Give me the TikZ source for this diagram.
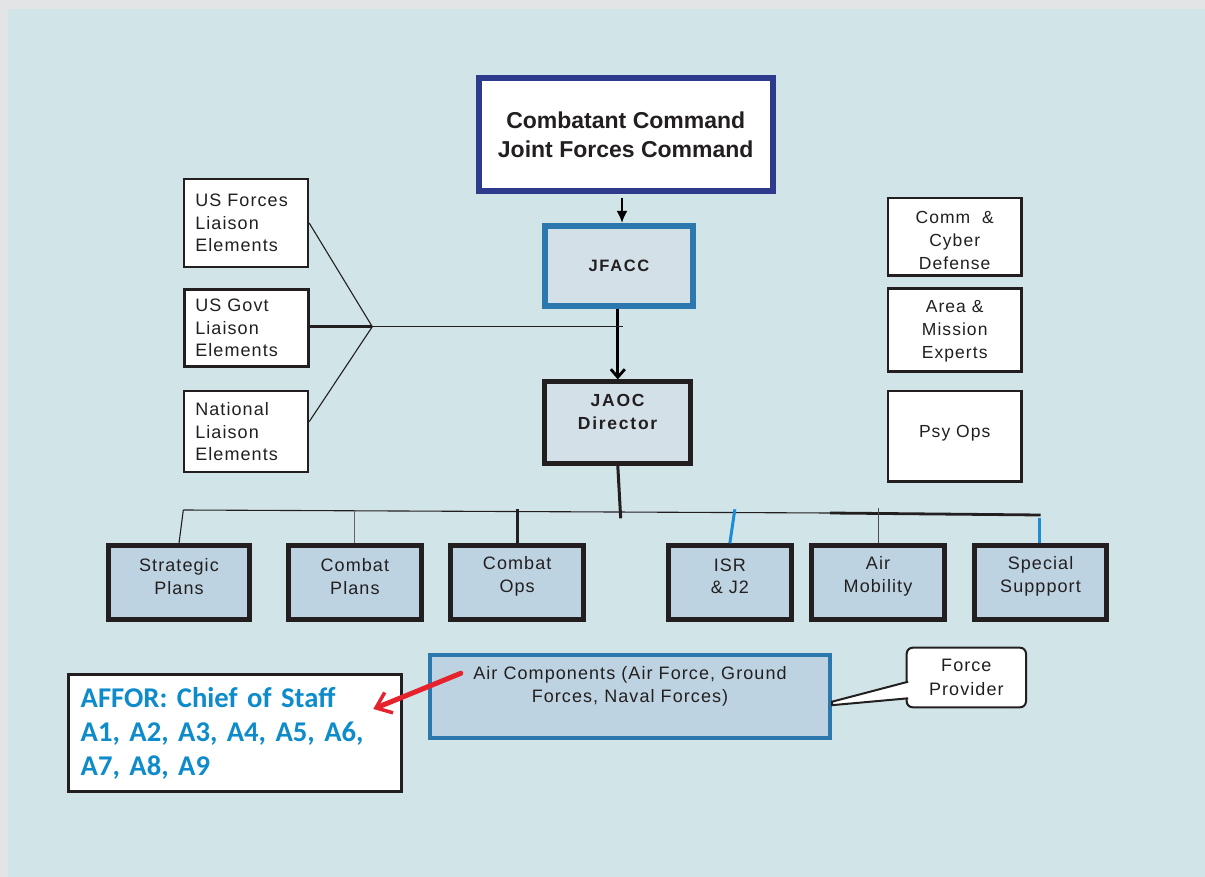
\documentclass[tikz,border=0pt]{standalone}
\usepackage{fontspec}
\setmainfont{Liberation Sans}
\newfontfamily\lsf[LetterSpace=6]{Liberation Sans}
\newfontfamily\lsfb[LetterSpace=10]{Liberation Sans}
\newfontfamily\calfont{Carlito}
\usetikzlibrary{arrows.meta,calc}

\definecolor{outergray}{HTML}{E3E4E6}
\definecolor{panel}{HTML}{D1E4E8}
\definecolor{navy}{HTML}{2E3B8C}
\definecolor{steel}{HTML}{2B77AE}
\definecolor{ink}{HTML}{231F20}
\definecolor{pale}{HTML}{D3E0E7}
\definecolor{unitfill}{HTML}{BDD3E1}
\definecolor{alertred}{HTML}{E6232C}
\definecolor{affblue}{HTML}{0D8BCB}
\definecolor{linkblue}{HTML}{1B8DD4}

\tikzset{
  every node/.style={inner sep=0pt, text=ink},
  cmdbox/.style={draw=navy, line width=6pt, fill=white,
    minimum width=293.5pt, minimum height=112.5pt, align=center,
    font=\bfseries\fontsize{23}{28.3}\selectfont},
  jfaccbox/.style={draw=steel, line width=6pt, fill=pale,
    minimum width=148pt, minimum height=80pt,
    font=\lsfb\bfseries\fontsize{16.5}{20}\selectfont},
  jaocbox/.style={draw=ink, line width=5pt, fill=pale,
    minimum width=146pt, minimum height=81.7pt},
  boldlabel/.style={align=center, font=\lsfb\bfseries\fontsize{17.5}{22.6}\selectfont},
  liaison/.style={draw=ink, fill=white, line width=1.8pt,
    minimum width=124pt, text width=102pt, inner xsep=10.7pt, align=left,
    font=\lsf\fontsize{18}{22.5}\selectfont},
  sidebox/.style={draw=ink, fill=white, line width=2.2pt,
    minimum width=133.5pt, align=center,
    font=\lsf\fontsize{17.5}{23}\selectfont},
  unitbox/.style={draw=ink, line width=5pt, fill=unitfill, minimum height=73.4pt},
  unitlabel/.style={align=center, font=\lsf\fontsize{18}{22.4}\selectfont},
  aircomp/.style={draw=steel, line width=4pt, fill=unitfill,
    minimum width=400pt, minimum height=82.7pt},
  provider/.style={draw=ink, fill=white, line width=2pt, rounded corners=6pt,
    minimum width=119.3pt, minimum height=59.6pt, align=center,
    font=\lsf\fontsize{18}{24.4}\selectfont},
  afforbox/.style={draw=ink, fill=white, line width=3pt,
    minimum width=333.6pt, minimum height=117pt, text width=308.6pt,
    inner xsep=12.5pt, align=left, text=affblue,
    font=\calfont\bfseries\fontsize{28.6}{34}\selectfont},
  thinlink/.style={draw=ink, line width=1.1pt},
  boldlink/.style={draw=ink, line width=2.8pt},
  bluelink/.style={draw=linkblue, line width=3pt},
}

\begin{document}
\begin{tikzpicture}[x=1pt,y=-1pt]
\useasboundingbox (0,0) rectangle (1205,877);
\fill[outergray] (0,0) rectangle (1205,877);
\fill[panel] (8,9) rectangle (1205,877);

% command chain
\node[cmdbox] (cc) at (625.75,134.75) {Combatant Command\\Joint Forces Command};
\node[jfaccbox] (jfacc) at (619,266) {JFACC};
\node[jaocbox] (jaoc) at (617.8,422.7) {};
\node[boldlabel] (jaoc-t) at (617.6,412) {JAOC\\Director};

% liaison elements
\node[liaison, minimum height=87.4pt] (usf) at (246.3,223) {US Forces\\Liaison\\Elements};
\node[liaison, line width=3pt, minimum width=123pt, minimum height=77.6pt] (govt) at (246.3,328) {US Govt\\Liaison\\Elements};
\node[liaison, minimum height=81.3pt] (nat) at (246.3,431.7) {National\\Liaison\\Elements};

% supporting cells on the right
\node[sidebox, minimum height=77.5pt] (comm) at (954.7,236.7) {};
\node[sidebox, minimum height=82.9pt] (area) at (954.7,330) {};
\node[sidebox, minimum height=90.2pt] (psy) at (954.7,436.35) {};
\node[sidebox, draw=none, fill=none] (comm-t) at (954.7,240.8) {Comm \ \&\\Cyber\\Defense};
\node[sidebox, draw=none, fill=none] (area-t) at (954.7,331.3) {Area \&\\Mission\\Experts};
\node[sidebox, draw=none, fill=none] (psy-t)  at (954.7,433.3) {Psy Ops};

% JAOC divisions
\node[unitbox, minimum width=141.6pt] (strat)   at (179,582.5) {};
\node[unitbox, minimum width=132.7pt] (cplans)  at (354.85,582.5) {};
\node[unitbox, minimum width=132.7pt] (cops)    at (517.15,582.5) {};
\node[unitbox, minimum width=123.3pt] (isr)     at (729.85,582.5) {};
\node[unitbox, minimum width=132.4pt] (airmob)  at (878,582.5) {};
\node[unitbox, minimum width=132.6pt] (special) at (1040.5,582.5) {};
\node[unitlabel] (strat-t)   at (179,576.5)    {Strategic\\Plans};
\node[unitlabel] (cplans-t)  at (354.85,576.5) {Combat\\Plans};
\node[unitlabel] (cops-t)    at (517.15,576.5) {Combat\\Ops};
\node[unitlabel] (isr-t)     at (729.85,576.5) {ISR\\\& J2};
\node[unitlabel] (airmob-t)  at (878,576.5)    {Air\\Mobility};
\node[unitlabel] (special-t) at (1040.5,576.5) {Special\\Suppport};

% components and AFFOR staff
\node[aircomp] (air) at (630.2,696.65) {};
\node[unitlabel, font=\lsf\fontsize{18}{23}\selectfont] (air-t) at (630,686.5)
  {Air Components (Air Force, Ground\\Forces, Naval Forces)};
\node[provider] (fp) at (966.35,677.5) {Force\\Provider};
\node[afforbox] (affor) at (235,733.3) {AFFOR: Chief of Staff\\A1, A2, A3, A4, A5, A6,\\A7, A8, A9};

% arrows down the chain
\draw[line width=2.4pt, -{Latex[length=12pt,width=11pt]}]
  ($(cc.south -| jfacc.north)+(3,4)$) -- ([xshift=3pt]jfacc.north);
\draw[line width=2.8pt, -{Straight Barb[length=8pt,width=14pt]}]
  (jfacc.south -| jaoc.north) -- (jaoc.north);

% liaison hub
\coordinate (hub) at (372.3,326.7);
\coordinate (hubend) at (622.7,326.7);
\draw[boldlink] (govt.east |- hub) -- (hub);
\draw[draw=ink, line width=1.6pt] (hub) -- (hubend);
\draw[thinlink] (hub) -- (usf.east);
\draw[thinlink] (hub) -- ($(nat.east)+(0,-10)$);

% division bus
\coordinate (busL) at (183.3,510);
\coordinate (busM) at (830,513);
\coordinate (busR) at (1040.7,515);
\coordinate (jfoot) at (620.7,518.3);
\draw[thinlink] (busL) -- (busM);
\draw[boldlink] (busM) -- (busR);
\draw[draw=ink, line width=3pt] (jaoc.south) -- (jfoot);
\draw[thinlink] (busL) -- (strat.north);
\draw[draw=ink!70, line width=1pt] (cplans.north |- busL) -- (cplans.north);
\draw[draw=ink, line width=3pt] ($(cops.north |- busL)+(0,-1)$) -- (cops.north);
\draw[bluelink] ($(isr.north |- busL)+(5,-0.7)$) -- (isr.north);
\draw[draw=ink!80, line width=1pt] ($(airmob.north |- busL)+(0,-2)$) -- (airmob.north);
\draw[bluelink] ($(special.north)+(-1.2,-25)$) -- ($(special.north)+(-1.2,0)$);

% force provider pointer
\path[fill=white, draw=ink, line width=2pt, line join=miter]
  ($(fp.west)+(2.5,4.2)$) -- ($(air.east)+(0,5)$) -- ($(air.east)+(0,8.5)$) -- ($(fp.west)+(2.5,20.8)$);

% red arrow to AFFOR
\coordinate (redstart) at (460.8,673.3);
\coordinate (redtip) at ($(affor.east)+(-30,-24.3)$);
\draw[draw=alertred, line width=5pt, line cap=round,
  -{Straight Barb[length=14pt,width=22pt,line width=3.5pt]}] (redstart) -- (redtip);
\end{tikzpicture}
\end{document}
